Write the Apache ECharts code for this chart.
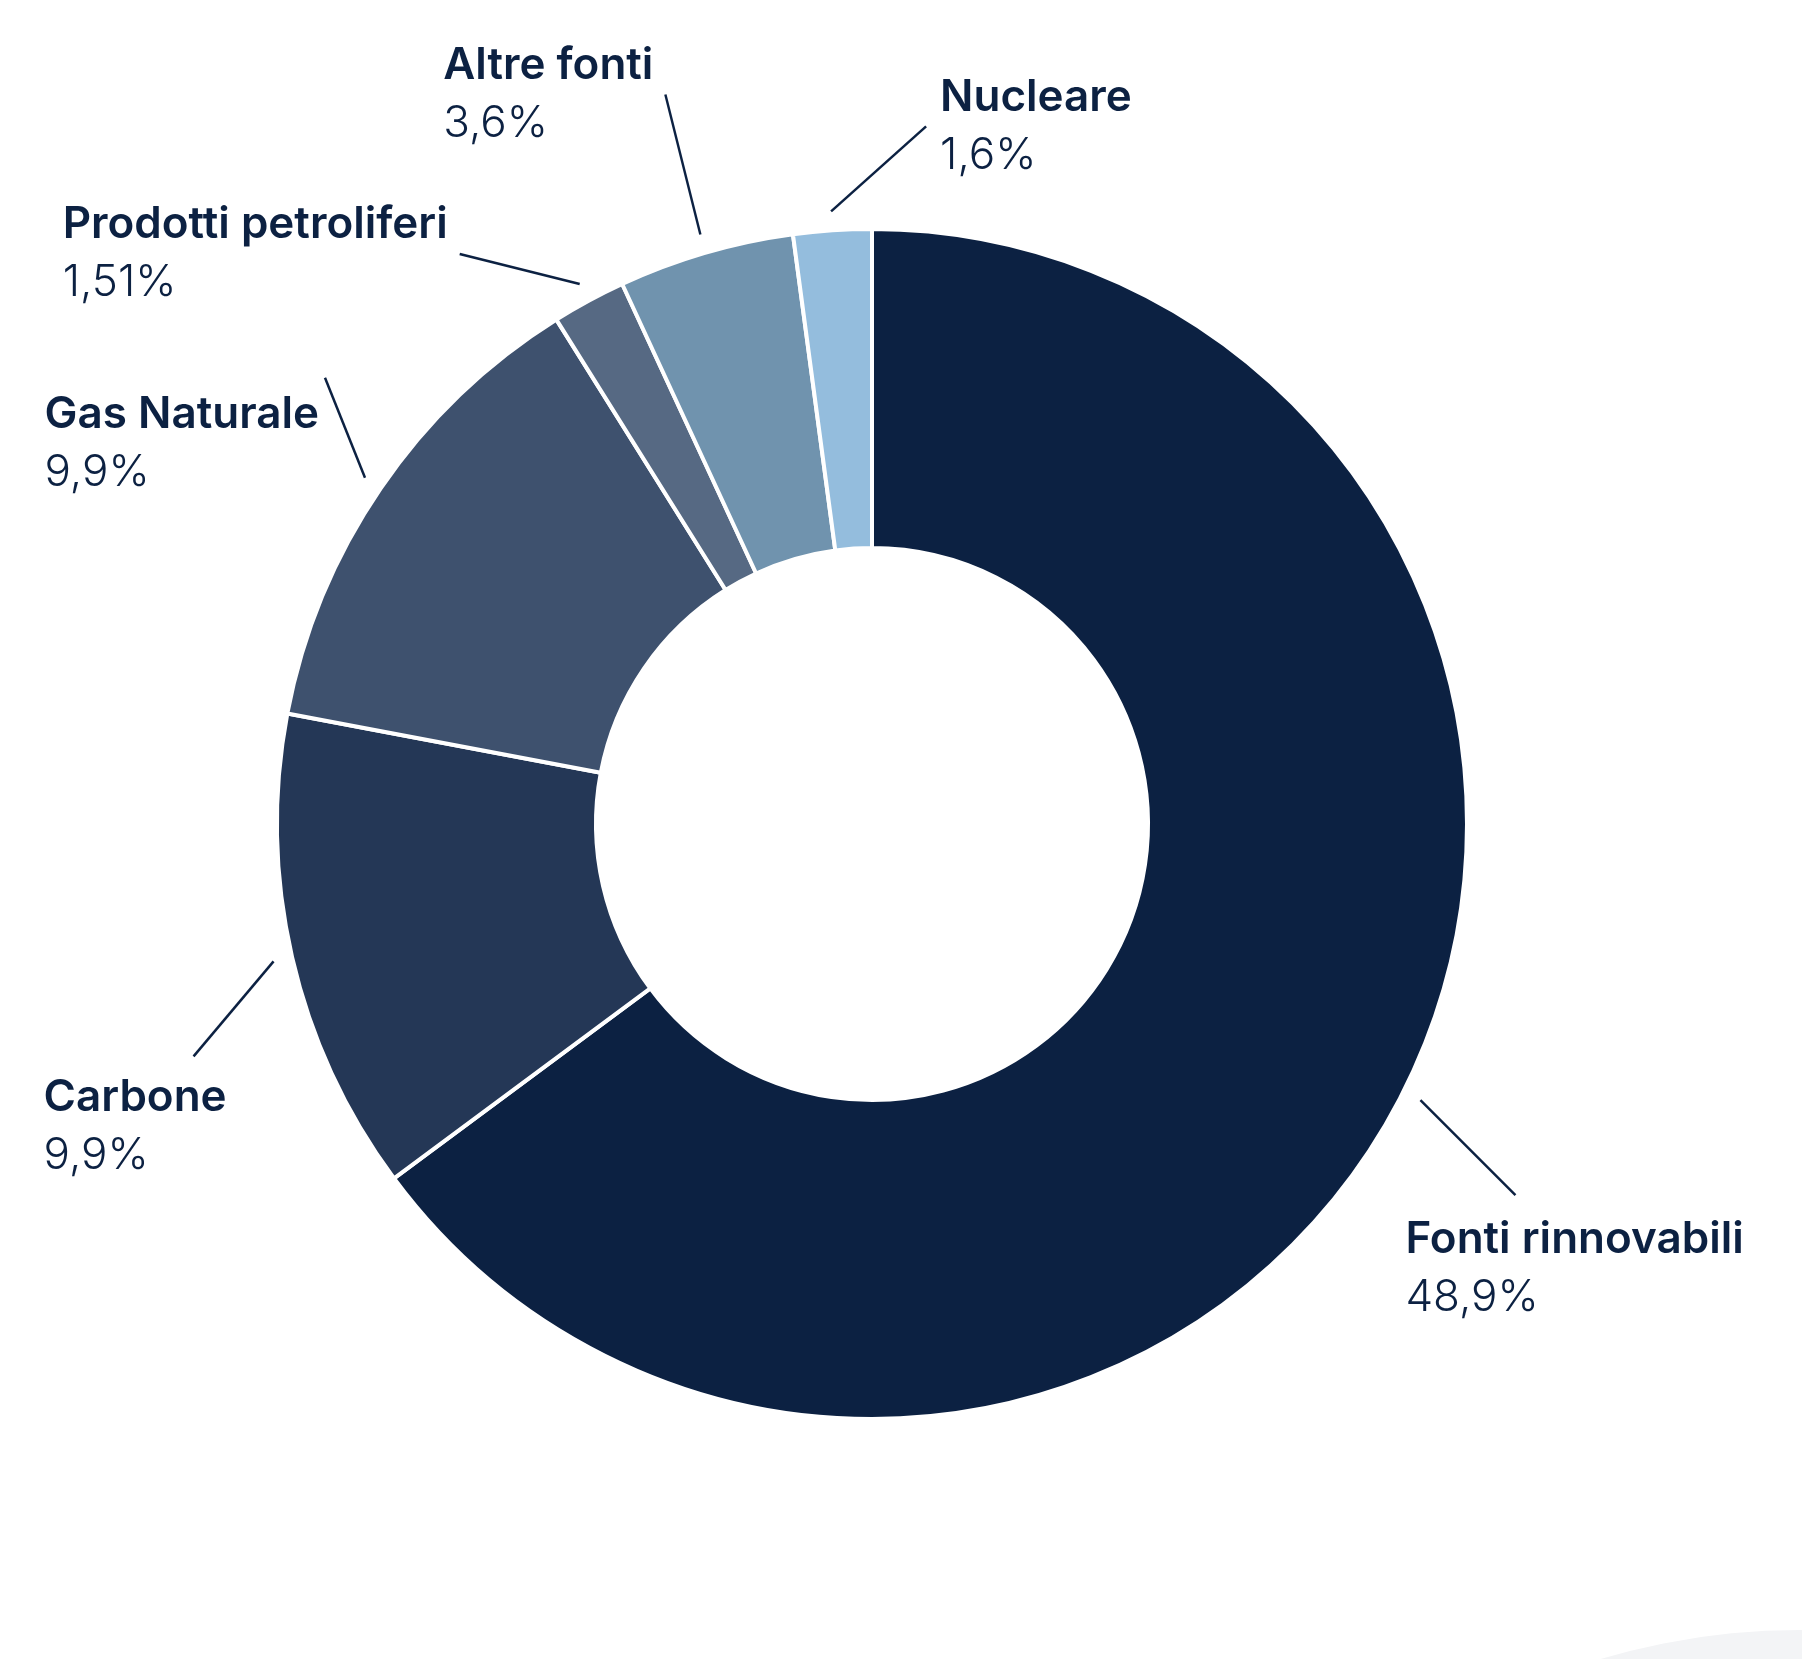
<!DOCTYPE html>
<html>
<head>
<meta charset="utf-8">
<title>Fonti energetiche</title>
<script src="https://cdn.jsdelivr.net/npm/echarts@6/dist/echarts.min.js"></script>
<style>
  html, body { margin: 0; padding: 0; background: #ffffff; }
  #chart { width: 1802px; height: 1659px; }
</style>
</head>
<body>
<div id="chart"></div>
<script>
// Energy mix by source (percent), clockwise from the top
const categories = ['Fonti rinnovabili', 'Carbone', 'Gas Naturale', 'Prodotti petroliferi', 'Altre fonti', 'Nucleare'];
const shares = [48.9, 9.9, 9.9, 1.51, 3.6, 1.6];
const sliceColors = ['#0c2142', '#243756', '#3e516e', '#566983', '#7093ae', '#94bddd'];

// Leader-line direction (dx, dy from the slice edge) and where the text block sits
// relative to the line's end, one entry per category.
const leaderStyle = [
  { dx: 95,  dy: 95,   ox: -110, oy: 16, align: 'left',  vAlign: 'top' },
  { dx: -80, dy: 95,   ox: -150, oy: 12, align: 'left',  vAlign: 'top' },
  { dx: -40, dy: -100, ox: -6,  oy: 8,  align: 'right', vAlign: 'top' },
  { dx: -120, dy: -30, ox: -12, oy: 0,  align: 'right', vAlign: 'middle' },
  { dx: -35, dy: -140, ox: -12, oy: 0,  align: 'right', vAlign: 'middle' },
  { dx: 95,  dy: -85,  ox: 14,  oy: 0,  align: 'left',  vAlign: 'middle' }
];

const textColor = '#0c2142';
const fontFamily = 'Inter, "Noto Sans", sans-serif';

const formatPct = v => String(v).replace('.', ',') + '%';

const pieData = categories.map((name, i) => ({
  name: name,
  value: shares[i],
  itemStyle: { color: sliceColors[i] }
}));

const chart = echarts.init(document.getElementById('chart'), null, { renderer: 'canvas' });

chart.setOption({
  backgroundColor: '#ffffff',
  animation: false,
  graphic: [{
    type: 'circle',
    silent: true,
    z: -10,
    shape: { cx: 1800, cy: 2330, r: 700 },
    style: { fill: '#f3f4f6' }
  }],
  series: [
    {
      // donut body
      type: 'pie',
      center: [872, 824],
      radius: [276, 595],
      startAngle: 90,
      clockwise: true,
      silent: true,
      itemStyle: { borderColor: '#ffffff', borderWidth: 4 },
      label: { show: false },
      labelLine: { show: false },
      data: pieData
    },
    {
      // thin invisible ring carrying the labels, so leader lines start just off the edge
      type: 'pie',
      center: [872, 824],
      radius: [600, 614],
      startAngle: 90,
      clockwise: true,
      silent: true,
      avoidLabelOverlap: false,
      itemStyle: { color: 'rgba(0,0,0,0)' },
      label: {
        show: true,
        position: 'outside',
        overflow: 'none',
        formatter: p => '{n|' + p.name + '}\n{v|' + formatPct(p.value) + '}',
        rich: {
          n: { fontFamily: fontFamily, fontSize: 44, fontWeight: 600, color: textColor, lineHeight: 58, align: 'left' },
          v: { fontFamily: fontFamily, fontSize: 44, fontWeight: 300, color: textColor, lineHeight: 58, align: 'left' }
        }
      },
      labelLine: {
        show: true,
        length: 100,
        length2: 0,
        lineStyle: { color: textColor, width: 2.5 }
      },
      labelLayout: function (params) {
        const s = leaderStyle[params.dataIndex];
        const p0 = params.labelLinePoints[0];
        const end = [p0[0] + s.dx, p0[1] + s.dy];
        return {
          x: end[0] + s.ox,
          y: end[1] + s.oy,
          align: s.align,
          verticalAlign: s.vAlign,
          labelLinePoints: [p0, end, end]
        };
      },
      data: pieData.map(d => ({ name: d.name, value: d.value }))
    }
  ]
});
</script>
</body>
</html>
